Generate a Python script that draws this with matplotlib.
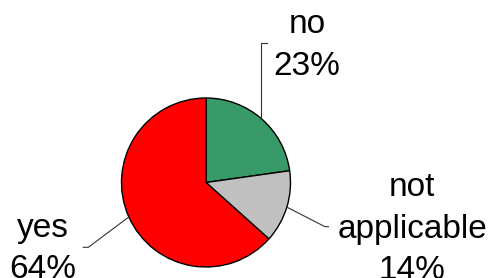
import numpy as np
import matplotlib
matplotlib.use("Agg")
import matplotlib.pyplot as plt

labels = ["no", "not\napplicable", "yes"]
values = [23, 14, 64]
pct_labels = ["23%", "14%", "64%"]
colors = ["#379A68", "#C0C0C0", "#FF0000"]

W, H = 490, 278
fig = plt.figure(figsize=(W / 100, H / 100), dpi=100)
ax = fig.add_axes([0, 0, 1, 1])

cx, cy, r = 206, H - 182.5, 84.5
wedges, _ = ax.pie(values, colors=colors, startangle=90, counterclock=False,
                   center=(cx, cy), radius=r, frame=True,
                   wedgeprops=dict(edgecolor="black", linewidth=1.0))
ax.set_xlim(0, W)
ax.set_ylim(0, H)
ax.axis("off")

# label layout (pixel coords from top): text x, first baseline, knee, end
text_pos = [(307, 33.3), (412, 196.5), (43, 236.5)]
knees = [(None, 42.7), (325, 226.7), (88.3, 247.3)]
ends = [(266.7, 42.7), (328.5, 226.7), (83.3, 247.3)]
line_step = 41.3

for w, lab, pct, tp, kn, en in zip(wedges, labels, pct_labels, text_pos, knees, ends):
    ang = np.deg2rad((w.theta1 + w.theta2) / 2)
    sx, sy = cx + r * np.cos(ang), cy + r * np.sin(ang)
    kx = sx if kn[0] is None else kn[0]
    ky = H - kn[1]
    ax.plot([sx, kx, en[0]], [sy, ky, H - en[1]], color="#333333", lw=0.8,
            solid_joinstyle="miter")
    lines = lab.split("\n") + [pct]
    for i, ln in enumerate(lines):
        ax.text(tp[0], H - (tp[1] + i * line_step), ln, ha="center", va="baseline",
                fontsize=24, family="Liberation Sans")

fig.savefig("out.png", dpi=100)
